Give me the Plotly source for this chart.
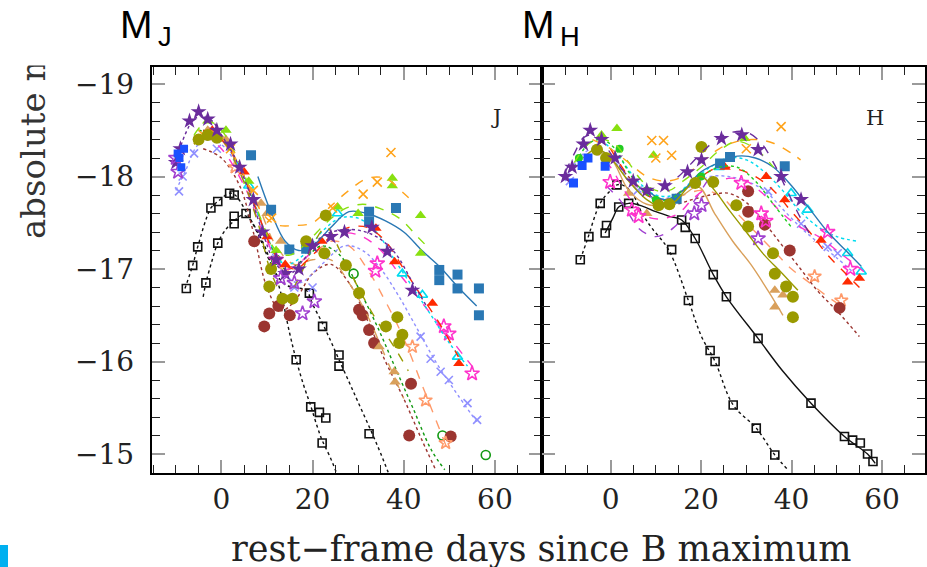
import plotly.graph_objects as go

# ---------------- J band (left panel) ----------------
J_blackA_fit_t = [-8, -6.3, -5.2, -2.3, -0.8, 1.8, 3, 6, 9, 11, 13, 15, 16.4, 18, 19.6, 21, 22.1, 24, 26]
J_blackA_fit_m = [-16.79, -17.04, -17.24, -17.66, -17.73, -17.82, -17.8, -17.57, -17.3, -17.05, -16.75, -16.3, -16.02, -15.75, -15.52, -15.3, -15.15, -14.95, -14.7]
J_blackA_pts_t = [-7.7, -6.3, -5.2, -2.3, -0.8, 1.8, 2.8, 16.4, 19.6, 22.1, 22.9, 21.5]
J_blackA_pts_m = [-16.79, -17.04, -17.24, -17.66, -17.73, -17.82, -17.8, -16.02, -15.51, -15.12, -15.39, -15.45]

J_blackB_fit_t = [-4, -3.4, -2, -0.8, 1, 2.8, 4.5, 6, 8, 10, 12, 14, 16, 18.6, 20, 22.2, 24, 25.8, 28, 30, 33.1, 35, 37]
J_blackB_fit_m = [-16.7, -16.85, -17.1, -17.28, -17.43, -17.52, -17.58, -17.55, -17.38, -17.15, -16.95, -16.83, -16.8, -16.77, -16.62, -16.41, -16.22, -16.02, -15.78, -15.56, -15.22, -15.0, -14.75]
J_blackB_pts_t = [-3.4, -0.8, 2.8, 2.8, 5.4, 19.3, 22.2, 25.8, 25.8, 32.4]
J_blackB_pts_m = [-16.85, -17.28, -17.49, -17.57, -17.6, -16.74, -16.38, -16.07, -15.95, -15.22]

J_purple_fit_t = [-10, -8, -6, -4, -2, 0, 3, 6, 9, 12, 15, 18, 22, 26, 30, 34, 38, 42, 45]
J_purple_fit_m = [-18.15, -18.45, -18.62, -18.66, -18.6, -18.45, -18.2, -17.85, -17.4, -17.05, -16.95, -17.1, -17.35, -17.42, -17.42, -17.35, -17.18, -16.85, -16.6]
J_purple_pts_t = [-10, -9, -7, -5, -3, -1, 2, 4, 7, 9, 12, 14, 17, 20, 24, 27, 33, 36.4, 41.9]
J_purple_pts_m = [-18.15, -18.3, -18.6, -18.7, -18.62, -18.5, -18.35, -18.1, -17.75, -17.4, -17.1, -16.95, -17.0, -17.25, -17.35, -17.4, -17.45, -17.19, -16.77]

J_violet_pts_t = [-10, -9.5, 13, 17.8, 20.4, 16]
J_violet_pts_m = [-18.2, -18.05, -16.9, -16.52, -16.65, -16.85]

J_orange_fit_t = [-6, -3, 0, 3, 6, 9, 12, 16, 20, 24, 28, 32, 36, 40, 41.5]
J_orange_fit_m = [-18.35, -18.5, -18.42, -18.2, -17.9, -17.6, -17.48, -17.47, -17.5, -17.68, -17.85, -17.98, -17.98, -17.82, -17.75]
J_orange_pts_t = [-4, 2, 7, 11, 24.4, 31.1, 34.2, 37.2]
J_orange_pts_m = [-18.45, -18.3, -17.85, -17.55, -17.66, -17.81, -17.94, -18.26]

J_lime_fit_t = [-6, -3, 0, 3, 6, 9, 12, 15, 19, 23, 27, 31, 35, 39, 43, 45]
J_lime_fit_m = [-18.45, -18.6, -18.5, -18.25, -17.9, -17.5, -17.2, -17.15, -17.3, -17.5, -17.65, -17.7, -17.65, -17.55, -17.35, -17.25]
J_lime_pts_t = [-3, 1, 6, 12, 25.5, 30, 37.5, 37.5, 43.7, 43.7]
J_lime_pts_m = [-18.6, -18.5, -17.95, -17.2, -17.67, -17.6, -17.98, -17.9, -17.58, -17.17]

J_steel_fit_t = [8, 11, 14, 17, 20, 24, 28, 32, 36, 40, 44, 48, 52, 56]
J_steel_fit_m = [-18.0, -17.6, -17.3, -17.2, -17.25, -17.45, -17.62, -17.6, -17.52, -17.4, -17.2, -17.02, -16.8, -16.6]
J_steel_pts_t = [6.5, 10.9, 14.9, 18.6, 32.4, 32.4, 38.3, 47.8, 47.8, 51.8, 51.8, 56.5, 56.5]
J_steel_pts_m = [-18.23, -17.64, -17.21, -17.22, -17.62, -17.51, -17.66, -16.99, -16.88, -16.94, -16.79, -16.79, -16.5]

J_red_fit_t = [-4, 0, 4, 8, 12, 16, 20, 24, 28, 32, 36, 40, 44, 48, 52]
J_red_fit_m = [-18.5, -18.4, -18.1, -17.6, -17.15, -17.0, -17.15, -17.35, -17.45, -17.45, -17.3, -17.0, -16.7, -16.4, -16.05]
J_red_pts_t = [-2, 5, 10, 14, 22, 33.9, 38, 46.3, 52.1]
J_red_pts_m = [-18.5, -18.05, -17.35, -17.05, -17.3, -17.44, -17.08, -16.63, -15.98]

J_cyan_fit_t = [-4, 0, 5, 10, 14, 18, 22, 26, 30, 34, 38, 42, 46, 50, 54]
J_cyan_fit_m = [-18.5, -18.4, -18.0, -17.35, -17.05, -17.15, -17.4, -17.55, -17.55, -17.4, -17.1, -16.8, -16.5, -16.2, -15.95]
J_cyan_pts_t = [6, 25.5, 39.7, 44.1, 51.8]
J_cyan_pts_m = [-17.9, -17.6, -16.95, -16.72, -16.05]

J_magenta_fit_t = [-4, 0, 5, 10, 14, 18, 22, 27, 31, 35, 39, 43, 47, 51, 55]
J_magenta_fit_m = [-18.45, -18.3, -17.9, -17.3, -17.0, -17.1, -17.3, -17.39, -17.35, -17.2, -16.95, -16.7, -16.45, -16.2, -15.95]
J_magenta_pts_t = [12, 34.2, 33.8, 48.8, 49.9, 55]
J_magenta_pts_m = [-17.1, -17.06, -16.98, -16.38, -16.3, -15.87]

J_lav_fit_t = [-10, -8, -5, -2, 1, 5, 9, 13, 17, 22, 27, 31, 35, 39, 43, 47, 51, 56]
J_lav_fit_m = [-17.85, -18.05, -18.35, -18.4, -18.3, -17.95, -17.45, -17.0, -16.85, -17.05, -17.25, -17.2, -17.0, -16.7, -16.35, -16.0, -15.7, -15.35]
J_lav_pts_t = [-9.3, -8.5, -6, -1, 16, 20, 43.7, 45.9, 48.1, 49.9, 54, 56.1]
J_lav_pts_m = [-17.84, -18.0, -18.25, -18.3, -16.8, -16.8, -16.27, -16.03, -15.89, -15.8, -15.55, -15.37]

J_salmon_fit_t = [0, 4, 8, 12, 16, 20, 24, 28, 32, 36, 40, 44, 48, 50]
J_salmon_fit_m = [-18.4, -18.1, -17.6, -17.15, -17.0, -17.15, -17.3, -17.25, -17.0, -16.65, -16.25, -15.75, -15.25, -15.0]
J_salmon_pts_t = [3, 14, 41.9, 44.8, 49.2]
J_salmon_pts_m = [-18.1, -17.0, -16.16, -15.58, -15.12]

J_tan_fit_t = [-6, -3, 0, 4, 8, 12, 16, 20, 24, 28, 32, 36, 40]
J_tan_fit_m = [-18.35, -18.5, -18.45, -18.1, -17.7, -17.25, -17.05, -17.1, -17.1, -16.85, -16.5, -16.05, -15.6]
J_tan_pts_t = [-3, 1, 8.7, 10, 13, 34.6, 37.9, 38.1]
J_tan_pts_m = [-18.5, -18.4, -17.71, -17.6, -17.3, -16.16, -15.89, -15.78]

J_maroon_fit_t = [-4, 0, 4, 7, 10, 13, 16, 20, 24, 28, 32, 36, 40, 44, 47]
J_maroon_fit_m = [-18.3, -18.2, -17.9, -17.4, -16.8, -16.55, -16.65, -16.95, -17.05, -16.85, -16.45, -16.0, -15.6, -15.15, -14.83]
J_maroon_pts_t = [7.2, 9.4, 10.5, 12.5, 15, 30.2, 31, 32.4, 33.5, 41.6, 41.2, 50.3]
J_maroon_pts_m = [-17.3, -16.38, -16.52, -16.6, -16.5, -16.56, -16.5, -16.34, -16.2, -15.76, -15.2, -15.19]

J_olive_fit_t = [-6, -3, 0, 4, 8, 11, 14, 17, 20, 23, 26, 30, 34, 38, 41]
J_olive_fit_m = [-18.35, -18.45, -18.4, -18.05, -17.5, -16.95, -16.7, -16.9, -17.25, -17.45, -17.2, -16.8, -16.45, -16.15, -15.9]
J_olive_pts_t = [-5, -3, -1, 10.5, 13.4, 15.6, 10.9, 18.6, 22.6, 22.9, 27.3, 30.2, 36.1, 38.6, 39.7, 39]
J_olive_pts_m = [-18.4, -18.45, -18.42, -16.81, -16.68, -16.68, -17.0, -17.3, -17.17, -17.58, -17.04, -16.74, -16.38, -16.48, -16.29, -16.2]

J_dgreen_fit_t = [-5, 0, 5, 10, 14, 18, 22, 26, 30, 34, 38, 42, 46, 49]
J_dgreen_fit_m = [-18.5, -18.4, -18.0, -17.35, -17.0, -17.1, -17.25, -17.15, -16.8, -16.4, -15.95, -15.5, -15.05, -14.83]
J_dgreen_pts_t = [12, 29, 48.5, 58]
J_dgreen_pts_m = [-17.1, -16.95, -15.2, -14.99]

J_blue_pts_t = [-9.2, -8.8, -9.6, -8.2]
J_blue_pts_m = [-18.2, -18.1, -18.25, -18.3]

# ---------------- H band (right panel) ----------------
H_blackC_fit_t = [-6.7, -5.2, -2.3, 0, 1.4, 3, 5, 7, 9, 12.8, 17.2, 20.1, 23.1, 27.1, 32.2, 36.3, 39.2]
H_blackC_fit_m = [-17.1, -17.31, -17.71, -17.85, -17.91, -17.9, -17.8, -17.6, -17.45, -17.21, -16.66, -16.27, -16.0, -15.53, -15.28, -14.99, -14.83]
H_blackC_pts_t = [-6.7, -4.8, -2.3, 1.4, 13.5, 17.2, 22.0, 23.1, 27.1, 32.2, 36.3]
H_blackC_pts_m = [-17.1, -17.35, -17.71, -17.91, -17.21, -16.66, -16.12, -16.0, -15.53, -15.28, -14.99]

H_blackD_fit_t = [-1.2, 0.5, 1.8, 4, 7, 10, 13, 15.7, 18.7, 22.7, 25.6, 32.6, 38, 44.3, 51.7, 56.8, 58.5]
H_blackD_fit_m = [-17.39, -17.55, -17.67, -17.71, -17.68, -17.62, -17.57, -17.53, -17.33, -16.94, -16.7, -16.25, -15.9, -15.55, -15.19, -15.0, -14.9]
H_blackD_pts_t = [-1.2, -0.9, 1.8, 4, 15.7, 16.5, 18.7, 22.7, 25.6, 32.6, 44.3, 51.7, 53.5, 55.2, 56.8, 58]
H_blackD_pts_m = [-17.39, -17.47, -17.67, -17.71, -17.53, -17.45, -17.33, -16.94, -16.7, -16.25, -15.55, -15.19, -15.15, -15.12, -15.0, -14.92]

H_purple_fit_t = [-10, -8, -6, -4, -2, 0, 3, 6, 9, 12, 15, 18, 21, 24, 27, 30, 33, 36, 39, 42, 45]
H_purple_fit_m = [-18.05, -18.25, -18.42, -18.45, -18.4, -18.25, -18.05, -17.9, -17.85, -17.9, -18.0, -18.15, -18.3, -18.42, -18.48, -18.48, -18.38, -18.15, -17.85, -17.55, -17.3]
H_purple_pts_t = [-10, -8.5, -6, -4.5, -2, 1, 5, 8, 12, 17, 20.1, 24.5, 29, 32.6, 37.7, 42.1]
H_purple_pts_m = [-18.0, -18.1, -18.35, -18.5, -18.4, -18.2, -17.95, -17.85, -17.9, -18.05, -18.18, -18.41, -18.45, -18.29, -18.0, -17.75]

H_orange_fit_t = [-4, 0, 4, 8, 12, 16, 20, 24, 28, 32, 36, 40, 42]
H_orange_fit_m = [-18.4, -18.3, -18.15, -18.0, -17.95, -18.0, -18.15, -18.3, -18.38, -18.4, -18.36, -18.25, -18.18]
H_orange_pts_t = [9.1, 11.7, 13.5, 10, 37.7, 30]
H_orange_pts_m = [-18.39, -18.39, -18.23, -18.2, -18.54, -18.3]

H_lime_fit_t = [-8, -5, -2, 1, 4, 7, 10, 13, 16, 20, 24, 28, 32, 36]
H_lime_fit_m = [-18.15, -18.35, -18.4, -18.35, -18.15, -17.95, -17.85, -17.85, -17.95, -18.1, -18.28, -18.38, -18.3, -18.1]
H_lime_pts_t = [1.4, 9.5, -2, 29.7]
H_lime_pts_m = [-18.52, -18.23, -18.45, -18.41]

H_green_fit_t = [-8, -5, -2, 1, 4, 7, 10, 13, 16, 20, 24, 28, 32, 36, 40]
H_green_fit_m = [-18.1, -18.35, -18.4, -18.3, -18.05, -17.85, -17.75, -17.75, -17.85, -18.0, -18.1, -18.1, -17.95, -17.7, -17.45]
H_green_pts_t = [-7, 2, 8, 10, 20]
H_green_pts_m = [-18.2, -18.3, -17.85, -17.75, -18.0]

H_steel_fit_t = [8, 12, 16, 20, 24, 28, 32, 36, 40, 44, 48, 52, 55.4]
H_steel_fit_m = [-17.85, -17.75, -17.85, -18.05, -18.15, -18.22, -18.2, -18.1, -17.9, -17.65, -17.4, -17.2, -17.03]
H_steel_pts_t = [14.6, 24.2, 26.4, 38.5]
H_steel_pts_m = [-17.76, -18.14, -18.21, -18.11]

H_blue_pts_t = [-8.2, -6.3, -1.2, -5]
H_blue_pts_m = [-17.93, -18.12, -18.11, -18.2]

H_red_fit_t = [0, 4, 8, 12, 16, 20, 24, 28, 32, 36, 40, 44, 48, 52, 56]
H_red_fit_m = [-18.3, -18.0, -17.8, -17.75, -17.85, -18.0, -18.1, -18.08, -18.0, -17.85, -17.62, -17.4, -17.15, -16.95, -16.75]
H_red_pts_t = [25.3, 34.4, 38.5, 46.5, 52.4, 55]
H_red_pts_m = [-18.1, -18.0, -17.75, -17.31, -16.86, -16.9]

H_magenta_fit_t = [-4, 0, 3, 6, 9, 12, 15, 18, 22, 26, 30, 34, 38, 42, 46, 50, 54, 56]
H_magenta_fit_m = [-18.3, -18.1, -17.85, -17.65, -17.55, -17.55, -17.6, -17.75, -17.9, -17.98, -17.95, -17.8, -17.6, -17.45, -17.35, -17.2, -17.05, -16.97]
H_magenta_pts_t = [-0.1, 4.7, 6.2, 28.9, 33.3, 34.3, 48, 53]
H_magenta_pts_m = [-17.94, -17.64, -17.57, -17.93, -17.6, -17.52, -17.4, -17.0]

H_violet_fit_t = [-1, 2, 4, 6, 8, 10, 12, 14, 16, 18, 20, 22]
H_violet_fit_m = [-17.9, -17.75, -17.6, -17.45, -17.38, -17.35, -17.38, -17.45, -17.55, -17.7, -17.85, -18.0]
H_violet_pts_t = [20.1, 18.5, 32.6]
H_violet_pts_m = [-17.69, -17.6, -17.33]

H_cyan_fit_t = [-2, 2, 6, 10, 14, 18, 22, 26, 30, 34, 38, 42, 46, 50, 54.6]
H_cyan_fit_m = [-18.4, -18.2, -17.95, -17.8, -17.8, -17.95, -18.1, -18.2, -18.18, -18.05, -17.85, -17.62, -17.45, -17.35, -17.3]
H_cyan_pts_t = [39.9, 43.6, 52.4, 55.4, 24]
H_cyan_pts_m = [-17.82, -17.64, -17.17, -16.97, -18.1]

H_lav_fit_t = [-10, -7, -4, -1, 2, 5, 8, 11, 14, 18, 22, 26, 30, 34, 38, 42, 46, 50, 54]
H_lav_fit_m = [-17.95, -18.2, -18.3, -18.25, -18.1, -17.9, -17.8, -17.75, -17.8, -17.9, -18.0, -18.0, -17.95, -17.85, -17.65, -17.45, -17.28, -17.12, -16.95]
H_lav_pts_t = [34.8, 42.1, 48, 50.2, 6, -9]
H_lav_pts_m = [-17.84, -17.49, -17.24, -17.17, -17.85, -17.95]

H_maroon_fit_t = [2, 6, 10, 14, 18, 22, 26, 30, 34, 38, 42, 46, 50, 55]
H_maroon_fit_m = [-18.1, -17.9, -17.75, -17.7, -17.75, -17.8, -17.82, -17.72, -17.5, -17.25, -17.0, -16.75, -16.55, -16.27]
H_maroon_pts_t = [30.4, 30.4, 34.1, 39.6, 50.6]
H_maroon_pts_m = [-17.84, -17.62, -17.48, -17.2, -16.58]

H_olive_fit_t = [-6, -3, 0, 4, 8, 11, 14, 17, 20, 23, 26, 30, 34, 38, 41.4]
H_olive_fit_m = [-18.2, -18.3, -18.2, -17.95, -17.75, -17.68, -17.72, -17.88, -18.0, -17.85, -17.65, -17.4, -17.15, -16.95, -16.77]
H_olive_pts_t = [-3, -1, 10.6, 13, 18.7, 20.1, 22.7, 27.8, 30.4, 35.9, 36.3, 38.8, 40.3, 40.3]
H_olive_pts_m = [-18.29, -18.2, -17.69, -17.7, -17.93, -18.32, -17.94, -17.69, -17.46, -17.17, -16.95, -16.81, -16.7, -16.48]

H_tan_fit_t = [-4, 0, 4, 8, 12, 16, 19.4, 23, 27, 31, 35, 38.1]
H_tan_fit_m = [-18.3, -18.2, -17.85, -17.7, -17.7, -17.8, -17.89, -17.6, -17.3, -17.05, -16.75, -16.5]
H_tan_pts_t = [-0.4, 4, 8, 36.3, 38.1, 36.3]
H_tan_pts_m = [-18.2, -17.82, -17.6, -16.77, -16.72, -16.59]

H_salmon_fit_t = [4, 8, 12, 16, 20, 24, 28, 32, 36, 40, 44, 48, 51]
H_salmon_fit_m = [-17.95, -17.8, -17.75, -17.8, -17.85, -17.8, -17.6, -17.4, -17.2, -17.0, -16.85, -16.7, -16.6]
H_salmon_pts_t = [45.1, 51]
H_salmon_pts_m = [-16.92, -16.66]

# ---------------- styles ----------------
C = dict(black="#111111", purple="#6a2c9c", violet="#a040d0", orange="#ffa31a", lime="#88e010",
         green="#22cc22", steel="#2a78b4", blue="#1a50ff", red="#ff2a00", magenta="#ff33cc",
         cyan="#00dcef", lav="#9090ff", maroon="#9b3530", olive="#9a9a00", tan="#d9a05b",
         salmon="#ff9a6a", dgreen="#119911")

# (fit_t, fit_m, pts_t, pts_m, color, symbol, size, dash)
J_SERIES = [
    (J_blackA_fit_t, J_blackA_fit_m, J_blackA_pts_t, J_blackA_pts_m, "black", "square-open", 8, "dot"),
    (J_blackB_fit_t, J_blackB_fit_m, J_blackB_pts_t, J_blackB_pts_m, "black", "square-open", 8, "dot"),
    (J_dgreen_fit_t, J_dgreen_fit_m, J_dgreen_pts_t, J_dgreen_pts_m, "dgreen", "circle-open", 9, "dot"),
    (J_maroon_fit_t, J_maroon_fit_m, J_maroon_pts_t, J_maroon_pts_m, "maroon", "circle", 12, "dot"),
    (J_tan_fit_t, J_tan_fit_m, J_tan_pts_t, J_tan_pts_m, "tan", "triangle-up", 10, "dash"),
    (J_salmon_fit_t, J_salmon_fit_m, J_salmon_pts_t, J_salmon_pts_m, "salmon", "star-open", 10, "dash"),
    (J_lav_fit_t, J_lav_fit_m, J_lav_pts_t, J_lav_pts_m, "lav", "x-thin", 8, "dot"),
    (J_magenta_fit_t, J_magenta_fit_m, J_magenta_pts_t, J_magenta_pts_m, "magenta", "star-open", 11, "dash"),
    (J_cyan_fit_t, J_cyan_fit_m, J_cyan_pts_t, J_cyan_pts_m, "cyan", "triangle-up-open", 9, "dot"),
    (J_red_fit_t, J_red_fit_m, J_red_pts_t, J_red_pts_m, "red", "triangle-up", 10, "dash"),
    (J_steel_fit_t, J_steel_fit_m, J_steel_pts_t, J_steel_pts_m, "steel", "square", 10, "solid"),
    (J_lime_fit_t, J_lime_fit_m, J_lime_pts_t, J_lime_pts_m, "lime", "triangle-up", 10, "dash"),
    (J_orange_fit_t, J_orange_fit_m, J_orange_pts_t, J_orange_pts_m, "orange", "x-thin", 9, "dash"),
    (J_olive_fit_t, J_olive_fit_m, J_olive_pts_t, J_olive_pts_m, "olive", "circle", 12, "dash"),
    (J_purple_fit_t, J_purple_fit_m, J_purple_pts_t, J_purple_pts_m, "purple", "star", 12, "dot"),
    (None, None, J_violet_pts_t, J_violet_pts_m, "violet", "star-open", 11, None),
    (None, None, J_blue_pts_t, J_blue_pts_m, "blue", "square", 8, None),
]

H_SERIES = [
    (H_blackC_fit_t, H_blackC_fit_m, H_blackC_pts_t, H_blackC_pts_m, "black", "square-open", 8, "dot"),
    (H_blackD_fit_t, H_blackD_fit_m, H_blackD_pts_t, H_blackD_pts_m, "black", "square-open", 8, "solid"),
    (H_salmon_fit_t, H_salmon_fit_m, H_salmon_pts_t, H_salmon_pts_m, "salmon", "star-open", 10, "dash"),
    (H_tan_fit_t, H_tan_fit_m, H_tan_pts_t, H_tan_pts_m, "tan", "triangle-up", 10, "solid"),
    (H_maroon_fit_t, H_maroon_fit_m, H_maroon_pts_t, H_maroon_pts_m, "maroon", "circle", 12, "dot"),
    (H_lav_fit_t, H_lav_fit_m, H_lav_pts_t, H_lav_pts_m, "lav", "x-thin", 8, "dot"),
    (H_cyan_fit_t, H_cyan_fit_m, H_cyan_pts_t, H_cyan_pts_m, "cyan", "triangle-up-open", 9, "dot"),
    (H_violet_fit_t, H_violet_fit_m, H_violet_pts_t, H_violet_pts_m, "violet", "star-open", 11, "dash"),
    (H_magenta_fit_t, H_magenta_fit_m, H_magenta_pts_t, H_magenta_pts_m, "magenta", "star-open", 11, "dash"),
    (H_red_fit_t, H_red_fit_m, H_red_pts_t, H_red_pts_m, "red", "triangle-up", 10, "dash"),
    (H_steel_fit_t, H_steel_fit_m, H_steel_pts_t, H_steel_pts_m, "steel", "square", 10, "solid"),
    (H_green_fit_t, H_green_fit_m, H_green_pts_t, H_green_pts_m, "green", "circle", 8, "dot"),
    (H_lime_fit_t, H_lime_fit_m, H_lime_pts_t, H_lime_pts_m, "lime", "triangle-up", 10, "dash"),
    (H_orange_fit_t, H_orange_fit_m, H_orange_pts_t, H_orange_pts_m, "orange", "x-thin", 9, "dash"),
    (H_olive_fit_t, H_olive_fit_m, H_olive_pts_t, H_olive_pts_m, "olive", "circle", 12, "solid"),
    (H_purple_fit_t, H_purple_fit_m, H_purple_pts_t, H_purple_pts_m, "purple", "star", 12, "dash"),
    (None, None, H_blue_pts_t, H_blue_pts_m, "blue", "square", 9, None),
]

fig = go.Figure()


def add_series(series, xa, ya):
    for fit_t, fit_m, pts_t, pts_m, cname, sym, size, dash in series:
        col = C[cname]
        if fit_t is not None:
            fig.add_trace(go.Scatter(x=fit_t, y=fit_m, mode="lines", xaxis=xa, yaxis=ya,
                                     line=dict(color=col, width=1.4, dash=dash, shape="spline"),
                                     showlegend=False, hoverinfo="skip"))
        is_open = sym.endswith("open") or sym.startswith("x-thin")
        fig.add_trace(go.Scatter(x=pts_t, y=pts_m, mode="markers", xaxis=xa, yaxis=ya,
                                 marker=dict(symbol=sym, size=size, color=col,
                                             line=dict(color=col, width=1.6 if is_open else 0)),
                                 showlegend=False))


add_series(J_SERIES, "x", "y")
add_series(H_SERIES, "x2", "y2")

W, H = 927, 567
left_dom = [152 / W, 543 / W]
right_dom = [543 / W, 1.0]
y_dom = [(H - 473) / H, (H - 67) / H]
y_range = [-14.795, -19.184]

tickfont = dict(family="DejaVu Serif", size=28, color="#222222")
xcommon = dict(showline=True, linecolor="black", linewidth=2, mirror="allticks",
               ticks="inside", ticklen=13, tickwidth=1.5, tickcolor="#9a9a9a",
               tick0=0, dtick=20, showgrid=False, zeroline=False,
               tickfont=tickfont, ticklabelstandoff=0,
               minor=dict(ticks="inside", ticklen=8, tickwidth=1.3, tickcolor="#222222",
                          tick0=0, dtick=5, showgrid=False))
ycommon = dict(showline=True, linecolor="black", linewidth=2, mirror="allticks",
               ticks="inside", ticklen=13, tickwidth=1.5, tickcolor="#9a9a9a",
               tick0=-19, dtick=1, showgrid=False, zeroline=False, range=y_range,
               domain=y_dom, tickfont=tickfont, ticklabelstandoff=10,
               minor=dict(ticks="inside", ticklen=8, tickwidth=1.3, tickcolor="#222222",
                          tick0=-19, dtick=0.2, showgrid=False))

fig.update_layout(
    width=W, height=H,
    margin=dict(l=0, r=0, t=0, b=0),
    paper_bgcolor="white", plot_bgcolor="white",
    xaxis=dict(domain=left_dom, range=[-15.3, 70.3], anchor="y", **xcommon),
    xaxis2=dict(domain=right_dom, range=[-15.2, 69.5], anchor="y2", **xcommon),
    yaxis=dict(anchor="x", **ycommon),
    yaxis2=dict(anchor="x2", showticklabels=False, **ycommon),
    annotations=[
        # y-axis title (the original image is cropped just above the plot frame)
        dict(text="absolute magnitude", textangle=-90, x=33 / W, y=(H - 241) / H,
             xref="paper", yref="paper", xanchor="center", yanchor="bottom", showarrow=False,
             font=dict(family="DejaVu Serif", size=34, color="#333333")),
        # white band that hides the cropped part of the y-axis title
        dict(text=" ", x=0, y=1 + 12 / H, xref="paper", yref="paper", xanchor="left", yanchor="top",
             width=112, height=76, bgcolor="white", showarrow=False, borderpad=0,
             font=dict(size=10, color="white")),
        dict(text="M<sub>\u2009J</sub>", x=118 / W, y=1 - 1 / H, xref="paper", yref="paper",
             xanchor="left", yanchor="top", showarrow=False,
             font=dict(family="Liberation Sans", size=39, color="black")),
        dict(text="M<sub>\u2009H</sub>", x=521 / W, y=1 - 1 / H, xref="paper", yref="paper",
             xanchor="left", yanchor="top", showarrow=False,
             font=dict(family="Liberation Sans", size=39, color="black")),
        dict(text="J", x=497 / W, y=(H - 103) / H, xref="paper", yref="paper",
             showarrow=False, font=dict(family="DejaVu Serif", size=21, color="#222222")),
        dict(text="H", x=888 / W, y=(H - 104) / H, xref="paper", yref="paper",
             showarrow=False, font=dict(family="DejaVu Serif", size=21, color="#222222")),
        dict(text="rest\u2212frame days since B maximum", x=542 / W, y=(H - 549) / H,
             xref="paper", yref="paper", xanchor="center", yanchor="middle", showarrow=False,
             font=dict(family="DejaVu Serif", size=35, color="#222222")),
    ],
    shapes=[dict(type="rect", xref="paper", yref="paper", x0=0, x1=8 / W,
                 y0=0, y1=(H - 545) / H, fillcolor="#00b0f0", line=dict(width=0))],
)

fig.write_html("out.html")
